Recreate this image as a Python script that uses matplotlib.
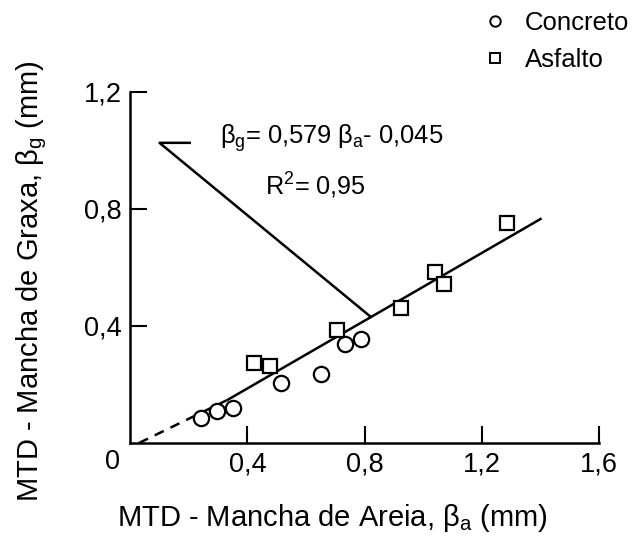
import matplotlib.pyplot as plt
from matplotlib.lines import Line2D

plt.rcParams['font.family'] = ['Liberation Sans', 'DejaVu Sans']
plt.rcParams['mathtext.fontset'] = 'custom'
plt.rcParams['mathtext.rm'] = 'Liberation Sans'
plt.rcParams['mathtext.it'] = 'Liberation Sans'

# data (mm)
concreto_x = [0.242, 0.296, 0.350, 0.515, 0.651, 0.732, 0.787]
concreto_y = [0.087, 0.108, 0.119, 0.204, 0.235, 0.340, 0.357]
asfalto_x = [0.424, 0.478, 0.704, 0.925, 1.039, 1.071, 1.286]
asfalto_y = [0.272, 0.264, 0.386, 0.462, 0.584, 0.542, 0.751]

slope, intercept = 0.579, -0.045
fit_x = [0.333, 1.40]
dash_x = [0.03, 0.333]
dash_y = [0.0, slope * 0.333 + intercept]
xticks = [0.4, 0.8, 1.2, 1.6]
xticklabels = ['0,4', '0,8', '1,2', '1,6']
yticks = [0.4, 0.8, 1.2]
yticklabels = ['0,4', '0,8', '1,2']

fig = plt.figure(figsize=(6.32, 5.36), dpi=100)
ax = fig.add_axes([0.206, 0.1735, 0.742, 0.655])

ax.plot(fit_x, [slope * v + intercept for v in fit_x], color='black', lw=1.8)
ax.plot(dash_x, dash_y, color='black', lw=1.8, ls=(0, (4, 3)))

ax.plot(concreto_x, concreto_y, 'o', ms=11, mfc='white', mec='black', mew=1.6,
        ls='none', clip_on=False)
ax.plot(asfalto_x, asfalto_y, 's', ms=10, mfc='white', mec='black', mew=1.6,
        ls='none', clip_on=False)

# leader line to the equation
ax.plot([0.821, 0.10, 0.203], [0.431, 1.026, 1.026], color='black', lw=1.8)
ax.text(0.305, 1.023, r'$\beta_g$= 0,579 $\beta_a$- 0,045', fontsize=18.4,
        va='baseline', ha='left')
ax.text(0.461, 0.846, r'R$^2$= 0,95', fontsize=18.2, va='baseline', ha='left')

ax.set_xlim(0, 1.6)
ax.set_ylim(0, 1.2)
ax.set_xticks(xticks)
ax.set_xticklabels(xticklabels)
ax.set_yticks(yticks)
ax.set_yticklabels(yticklabels)
ax.tick_params(direction='in', length=12, width=1.5, labelsize=19.5, pad=6)
ax.text(-0.06, -0.065, '0', fontsize=19.5, ha='center', va='center',
        transform=ax.transData, clip_on=False)

for s in ['top', 'right']:
    ax.spines[s].set_visible(False)
for s in ['left', 'bottom']:
    ax.spines[s].set_linewidth(1.8)

ax.set_xlabel(r'MTD - Mancha de Areia, $\beta_a$ (mm)', fontsize=21)
ax.set_ylabel(r'MTD - Mancha de Graxa, $\beta_g$ (mm)', fontsize=21)
ax.xaxis.label.set_va('center')
ax.yaxis.label.set_va('center')
ax.xaxis.set_label_coords(0.43, -0.215)
ax.yaxis.set_label_coords(-0.21, 0.46)

handles = [
    Line2D([], [], marker='o', ls='none', ms=7.5, mfc='white', mec='black', mew=1.4),
    Line2D([], [], marker='s', ls='none', ms=7, mfc='white', mec='black', mew=1.4),
]
fig.legend(handles, ['Concreto', 'Asfalto'], loc='upper left',
           bbox_to_anchor=(0.767, 0.979), frameon=False, fontsize=18.5,
           borderpad=0, borderaxespad=0,
           handlelength=0.8, handletextpad=0.76, labelspacing=0.48)

fig.savefig('out.png', dpi=100)
